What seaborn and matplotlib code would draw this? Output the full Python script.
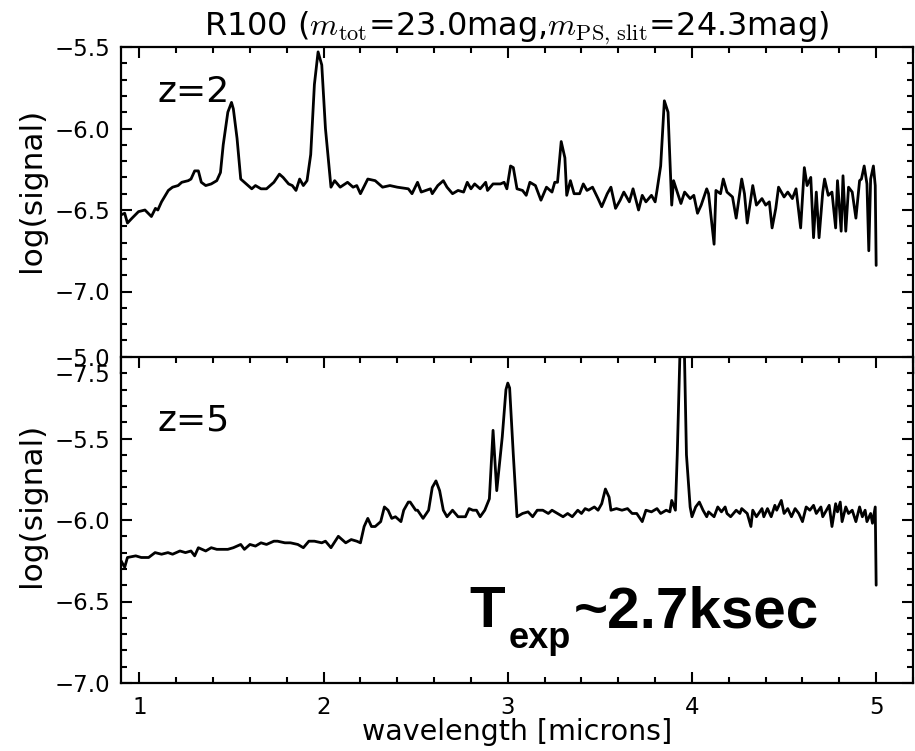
import matplotlib
matplotlib.use("Agg")
import matplotlib.pyplot as plt
from matplotlib.ticker import MultipleLocator
import pandas as pd
import seaborn as sns

# z=2 spectrum: wavelength [microns] and log(signal)
w_z2 = [0.90, 0.92, 0.935, 0.96, 0.995, 1.03, 1.065, 1.087, 1.10, 1.12, 1.157, 1.18,
        1.21, 1.23, 1.265, 1.28, 1.30, 1.32, 1.336, 1.36, 1.39, 1.42, 1.44, 1.455,
        1.48, 1.50, 1.51, 1.53, 1.55, 1.58, 1.61, 1.63, 1.66, 1.69, 1.73, 1.76,
        1.78, 1.81, 1.83, 1.85, 1.87, 1.89, 1.91, 1.93, 1.95, 1.97, 1.99, 2.01,
        2.04, 2.06, 2.09, 2.13, 2.16, 2.18, 2.20, 2.24, 2.28, 2.32, 2.36, 2.40,
        2.46, 2.48, 2.51, 2.53, 2.58, 2.59, 2.62, 2.65, 2.67, 2.70, 2.73, 2.76,
        2.78, 2.80, 2.82, 2.85, 2.88, 2.89, 2.92, 2.96, 2.98, 2.995, 3.015, 3.03,
        3.05, 3.08, 3.10, 3.12, 3.15, 3.18, 3.21, 3.24, 3.255, 3.27, 3.29, 3.31,
        3.32, 3.34, 3.36, 3.39, 3.41, 3.43, 3.46, 3.49, 3.51, 3.54, 3.56, 3.585,
        3.61, 3.63, 3.66, 3.68, 3.71, 3.73, 3.75, 3.78, 3.80, 3.81, 3.83, 3.85,
        3.87, 3.89, 3.90, 3.92, 3.94, 3.96, 3.99, 4.01, 4.03, 4.05, 4.08, 4.09,
        4.12, 4.13, 4.155, 4.17, 4.19, 4.22, 4.24, 4.27, 4.285, 4.30, 4.33, 4.35,
        4.38, 4.40, 4.42, 4.435, 4.455, 4.47, 4.50, 4.52, 4.545, 4.565, 4.59, 4.61,
        4.625, 4.645, 4.66, 4.675, 4.69, 4.71, 4.72, 4.74, 4.76, 4.78, 4.79, 4.81,
        4.82, 4.835, 4.85, 4.87, 4.89, 4.91, 4.92, 4.935, 4.95, 4.96, 4.97, 4.985,
        4.995, 5.00]
s_z2 = [-6.53, -6.52, -6.58, -6.55, -6.51, -6.50, -6.54, -6.49, -6.50, -6.45, -6.38, -6.36,
        -6.35, -6.33, -6.32, -6.31, -6.26, -6.26, -6.33, -6.35, -6.34, -6.32, -6.27, -6.10,
        -5.90, -5.84, -5.88, -6.06, -6.31, -6.34, -6.37, -6.35, -6.37, -6.37, -6.33, -6.28,
        -6.30, -6.34, -6.35, -6.38, -6.31, -6.35, -6.32, -6.16, -5.73, -5.53, -5.61, -6.00,
        -6.36, -6.32, -6.36, -6.33, -6.36, -6.35, -6.40, -6.31, -6.32, -6.36, -6.35, -6.36,
        -6.37, -6.40, -6.33, -6.39, -6.37, -6.40, -6.35, -6.32, -6.36, -6.40, -6.38, -6.39,
        -6.33, -6.37, -6.34, -6.37, -6.33, -6.38, -6.34, -6.34, -6.33, -6.37, -6.23, -6.24,
        -6.37, -6.38, -6.41, -6.33, -6.35, -6.44, -6.36, -6.39, -6.33, -6.33, -6.08, -6.18,
        -6.41, -6.32, -6.40, -6.40, -6.34, -6.38, -6.36, -6.43, -6.48, -6.40, -6.36, -6.49,
        -6.44, -6.39, -6.45, -6.37, -6.50, -6.41, -6.45, -6.41, -6.45, -6.38, -6.23, -5.83,
        -5.90, -6.47, -6.32, -6.39, -6.46, -6.39, -6.43, -6.41, -6.52, -6.47, -6.37, -6.40,
        -6.71, -6.38, -6.40, -6.31, -6.39, -6.42, -6.55, -6.31, -6.40, -6.58, -6.35, -6.47,
        -6.43, -6.47, -6.45, -6.61, -6.49, -6.36, -6.42, -6.39, -6.43, -6.37, -6.61, -6.24,
        -6.35, -6.30, -6.67, -6.39, -6.67, -6.39, -6.31, -6.41, -6.39, -6.61, -6.32, -6.63,
        -6.29, -6.63, -6.36, -6.39, -6.55, -6.32, -6.31, -6.23, -6.34, -6.75, -6.31, -6.23,
        -6.35, -6.84]

# z=5 spectrum
w_z5 = [0.90, 0.92, 0.935, 0.98, 1.01, 1.05, 1.085, 1.12, 1.155, 1.18, 1.22, 1.25,
        1.28, 1.30, 1.32, 1.36, 1.39, 1.42, 1.455, 1.48, 1.51, 1.55, 1.57, 1.60,
        1.63, 1.66, 1.69, 1.73, 1.75, 1.79, 1.82, 1.86, 1.89, 1.92, 1.95, 1.99,
        2.01, 2.04, 2.08, 2.10, 2.12, 2.15, 2.18, 2.20, 2.22, 2.24, 2.26, 2.28,
        2.31, 2.33, 2.35, 2.37, 2.39, 2.42, 2.435, 2.46, 2.47, 2.50, 2.51, 2.54,
        2.57, 2.59, 2.61, 2.63, 2.65, 2.67, 2.70, 2.73, 2.77, 2.79, 2.81, 2.83,
        2.85, 2.875, 2.90, 2.92, 2.94, 2.97, 2.99, 3.00, 3.01, 3.03, 3.05, 3.08, 3.11,
        3.135, 3.16, 3.19, 3.22, 3.24, 3.27, 3.30, 3.325, 3.35, 3.38, 3.40, 3.42,
        3.44, 3.47, 3.49, 3.51, 3.53, 3.55, 3.56, 3.59, 3.62, 3.65, 3.675, 3.70,
        3.73, 3.75, 3.78, 3.81, 3.83, 3.86, 3.88, 3.89, 3.91, 3.92, 3.94, 3.955,
        3.97, 3.99, 4.00, 4.02, 4.04, 4.06, 4.08, 4.09, 4.12, 4.14, 4.16, 4.18,
        4.19, 4.21, 4.24, 4.26, 4.27, 4.30, 4.32, 4.33, 4.35, 4.38, 4.39, 4.41,
        4.43, 4.45, 4.46, 4.485, 4.50, 4.52, 4.54, 4.56, 4.58, 4.60, 4.62, 4.64,
        4.66, 4.675, 4.70, 4.71, 4.73, 4.745, 4.76, 4.78, 4.79, 4.805, 4.815, 4.835,
        4.85, 4.87, 4.89, 4.91, 4.925, 4.94, 4.95, 4.97, 4.98, 4.995, 5.00]
s_z5 = [-6.25, -6.29, -6.23, -6.22, -6.23, -6.23, -6.20, -6.21, -6.20, -6.21, -6.19, -6.20,
        -6.19, -6.22, -6.17, -6.19, -6.17, -6.18, -6.18, -6.18, -6.17, -6.15, -6.18, -6.15,
        -6.16, -6.14, -6.15, -6.13, -6.13, -6.14, -6.14, -6.15, -6.17, -6.13, -6.13, -6.14,
        -6.13, -6.17, -6.10, -6.12, -6.14, -6.12, -6.13, -6.14, -6.04, -5.99, -6.04, -6.04,
        -6.01, -5.92, -5.94, -5.99, -5.98, -6.01, -5.94, -5.89, -5.89, -5.94, -5.94, -5.99,
        -5.94, -5.80, -5.76, -5.82, -5.94, -5.98, -5.94, -5.98, -5.98, -5.93, -5.94, -5.94,
        -5.98, -5.94, -5.87, -5.45, -5.82, -5.49, -5.20, -5.16, -5.19, -5.60, -5.98, -5.96, -5.95,
        -5.98, -5.94, -5.94, -5.96, -5.94, -5.96, -5.98, -5.96, -5.98, -5.94, -5.96, -5.93,
        -5.94, -5.92, -5.94, -5.90, -5.81, -5.86, -5.94, -5.93, -5.94, -5.93, -5.96, -5.96,
        -6.01, -5.94, -5.95, -5.93, -5.96, -5.94, -5.95, -5.88, -5.94, -5.60, -4.75, -4.75,
        -5.60, -5.92, -5.98, -5.92, -5.89, -5.94, -5.98, -5.95, -5.98, -5.92, -5.95, -5.92,
        -5.96, -5.98, -5.94, -5.96, -5.93, -5.96, -6.04, -5.94, -5.98, -5.93, -5.98, -5.93,
        -5.98, -5.91, -5.94, -5.88, -5.96, -5.93, -5.98, -5.93, -5.96, -6.01, -5.92, -5.94,
        -5.91, -5.96, -5.92, -5.98, -5.94, -5.91, -6.04, -5.90, -5.95, -5.89, -6.01, -5.92,
        -5.96, -5.94, -6.01, -5.92, -5.98, -5.94, -6.01, -5.96, -6.02, -5.92, -6.40]

x_ticks = [1, 2, 3, 4, 5]

sns.set_style("ticks")
plt.rcParams["font.family"] = ["DejaVu Sans"]
plt.rcParams.update({
    "text.color": "black", "axes.labelcolor": "black",
    "xtick.direction": "in", "ytick.direction": "in",
    "xtick.top": True, "ytick.right": True,
    "xtick.major.size": 8, "ytick.major.size": 8,
    "xtick.minor.size": 4.5, "ytick.minor.size": 4.5,
    "xtick.major.width": 1.5, "ytick.major.width": 1.5,
    "xtick.minor.width": 1.5, "ytick.minor.width": 1.5,
    "xtick.color": "black", "ytick.color": "black",
    "xtick.labelcolor": "black", "ytick.labelcolor": "black",
    "axes.edgecolor": "black", "axes.linewidth": 1.6,
    "xtick.labelsize": 16.5, "ytick.labelsize": 16.5,
    "xtick.major.pad": 9, "ytick.major.pad": 8,
})

W, H = 915, 751
fig = plt.figure(figsize=(W / 100, H / 100), dpi=100)


def axes_px(left, top, right, bottom):
    return fig.add_axes([left / W, 1 - bottom / H, (right - left) / W, (bottom - top) / H])


ax_top = axes_px(121, 47, 913, 373)
ax_bot = axes_px(121, 357, 913, 683)
ax_bot.set_facecolor("white")

panels = [
    (ax_top, w_z2, s_z2, (-7.5, -5.5), "z=2", -5.84, 0.561),
    (ax_bot, w_z5, s_z5, (-7.0, -5.0), "z=5", -5.45, 0.546),
]
for ax, w, s, ylim, label, ytxt, ylab_pos in panels:
    df = pd.DataFrame({"wavelength": w, "signal": s})
    sns.lineplot(data=df, x="wavelength", y="signal", ax=ax, color="black",
                 linewidth=2.0, estimator=None, sort=False)
    ax.set_xlim(0.9, 5.2)
    ax.set_ylim(*ylim)
    ax.set_xticks(x_ticks)
    ax.xaxis.set_minor_locator(MultipleLocator(0.2))
    ax.yaxis.set_major_locator(MultipleLocator(0.5))
    ax.yaxis.set_minor_locator(MultipleLocator(0.1))
    ax.tick_params(which="both", top=True, right=True, direction="in")
    ax.set_ylabel("log(signal)", fontsize=22.5)
    ax.yaxis.set_label_coords(-0.095, ylab_pos)
    ax.set_xlabel("")
    ax.text(1.10, ytxt, label, fontsize=26, va="baseline", ha="left")

ax_top.tick_params(labelbottom=False)
ax_bot.set_xlabel("wavelength [microns]", fontsize=20.5, labelpad=0)
ax_top.set_title(r"R100 ($m_{\rm tot}$=23.0mag,$m_{\rm PS,\,slit}$=24.3mag)",
                 fontsize=23, pad=8, math_fontfamily="cm")

# exposure time annotation
bold = dict(family="Liberation Sans", fontweight="bold", va="baseline", ha="left", color="black")
fig.text(469 / W, 1 - 627 / H, "T", fontsize=42, **bold)
fig.text(509 / W, 1 - 648 / H, "exp", fontsize=26, **bold)
fig.text(574 / W, 1 - 627 / H, "~2.7ksec", fontsize=42, **bold)

fig.savefig("out.png", dpi=100)
